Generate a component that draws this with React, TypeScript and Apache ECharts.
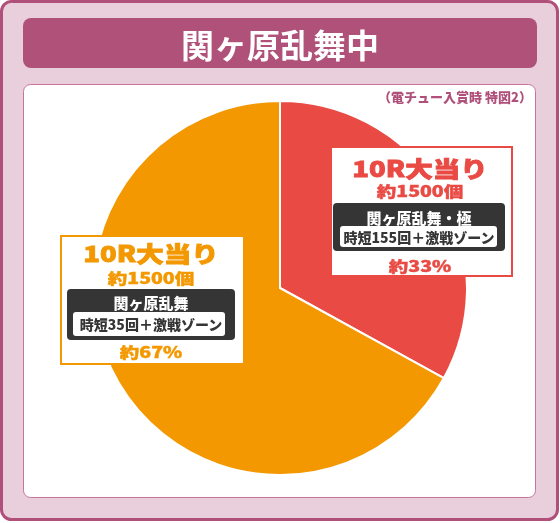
import React, { useEffect, useRef } from "react";
import * as echarts from "echarts";

const titleText = "関ヶ原乱舞中";
const noteText = "（電チュー入賞時 特図2）";
const categories = ["関ヶ原乱舞・極", "関ヶ原乱舞"];
const values = [33, 67];
const headlines = ["10R大当り", "10R大当り"];
const payouts = ["約1500個", "約1500個"];
const jitanLabels = ["時短155回＋激戦ゾーン", "時短35回＋激戦ゾーン"];

const SLICE_COLORS = ["#e94a43", "#f39800"];
const FONT = "'Noto Sans CJK JP', 'Noto Sans', sans-serif";
const DARK = "#353535";
const FRAME = "#b0507a";

// layout of each label box (px)
const BOXES = [
  { x: 331, y: 147, w: 181, h: 129, cx: 420, head: 167, pay: 191, dx: 333, dy: 203, dw: 172, dh: 48, title: 217, wx: 340, wy: 226, ww: 157, wh: 21, pct: 266 },
  { x: 61, y: 236, w: 183, h: 128, cx: 151, head: 252, pay: 278, dx: 67, dy: 289, dw: 168, dh: 51, title: 302, wx: 73, wy: 312, ww: 152, wh: 24, pct: 352 },
];

function txt(text: string, x: number, y: number, size: number, fill: string, scaleX = 1, z = 110, weight = 900, strokeW = 0) {
  return {
    type: "text",
    x,
    y,
    scaleX,
    z,
    style: {
      text,
      x: 0,
      y: 0,
      fill,
      stroke: strokeW ? fill : undefined,
      lineWidth: strokeW,
      font: `${weight} ${size}px ${FONT}`,
      align: "center",
      verticalAlign: "middle",
    },
  };
}

export default function App() {
  const ref = useRef<HTMLDivElement>(null);
  useEffect(() => {
    if (!ref.current) return;
    const chart = echarts.init(ref.current, null, { renderer: "svg" });

    const labelEls: any[] = [];
    values.forEach((v, i) => {
      const b = BOXES[i];
      const c = SLICE_COLORS[i];
      labelEls.push({
        type: "rect",
        z: 100,
        shape: { x: b.x, y: b.y, width: b.w, height: b.h },
        style: { fill: "#fff", stroke: c, lineWidth: 2 },
      });
      labelEls.push(txt(headlines[i], b.cx, b.head, 22, c, 1.25, 110, 900, 0.8));
      labelEls.push(txt(payouts[i], b.cx, b.pay, 15, c, 1.3, 110, 900, 0.4));
      labelEls.push({
        type: "rect",
        z: 101,
        shape: { x: b.dx, y: b.dy, width: b.dw, height: b.dh, r: 4 },
        style: { fill: DARK },
      });
      labelEls.push(txt(categories[i], b.dx + b.dw / 2, b.title, 15, "#fff", 1.0));
      labelEls.push({
        type: "rect",
        z: 102,
        shape: { x: b.wx, y: b.wy, width: b.ww, height: b.wh, r: 3 },
        style: { fill: "#fff" },
      });
      labelEls.push(txt(jitanLabels[i], b.dx + b.dw / 2, b.wy + b.wh / 2, 14, DARK, 1.0, 111, 900));
      labelEls.push(txt(`約${v}%`, b.cx, b.pct, 15, c, 1.3, 110, 900, 0.4));
    });

    chart.setOption({
      animation: false,
      graphic: [
        {
          type: "rect",
          z: -10,
          shape: { x: 1.5, y: 1.5, width: 556, height: 518, r: 10 },
          style: { fill: "#e9cfdc", stroke: FRAME, lineWidth: 3 },
        },
        {
          type: "rect",
          z: -9,
          shape: { x: 23, y: 18, width: 514, height: 50, r: 8 },
          style: { fill: "#b05179" },
        },
        txt(titleText, 280, 44, 33, "#fff", 1.0, -8, 700),
        {
          type: "rect",
          z: -9,
          shape: { x: 23.5, y: 84.5, width: 512, height: 413, r: 7 },
          style: { fill: "#fff", stroke: "#c9739c", lineWidth: 1 },
        },
        {
          type: "text",
          z: -8,
          x: 532,
          y: 96,
          style: {
            text: noteText,
            x: 0,
            y: 0,
            fill: "#b0507a",
            font: `900 13px ${FONT}`,
            align: "right",
            verticalAlign: "middle",
          },
        },
        ...labelEls,
      ],
      series: [
        {
          type: "pie",
          center: [280, 288],
          radius: [0, 187],
          startAngle: 90,
          clockwise: true,
          label: { show: false },
          labelLine: { show: false },
          emphasis: { disabled: true },
          itemStyle: { borderColor: "#fff", borderWidth: 2 },
          data: values.map((v, i) => ({
            value: v,
            name: categories[i],
            itemStyle: { color: SLICE_COLORS[i] },
          })),
        },
      ],
    });
    return () => chart.dispose();
  }, []);
  return (
    <div
      ref={ref}
      style={{ position: "fixed", left: 0, top: 0, width: 560, height: 523 }}
    />
  );
}
